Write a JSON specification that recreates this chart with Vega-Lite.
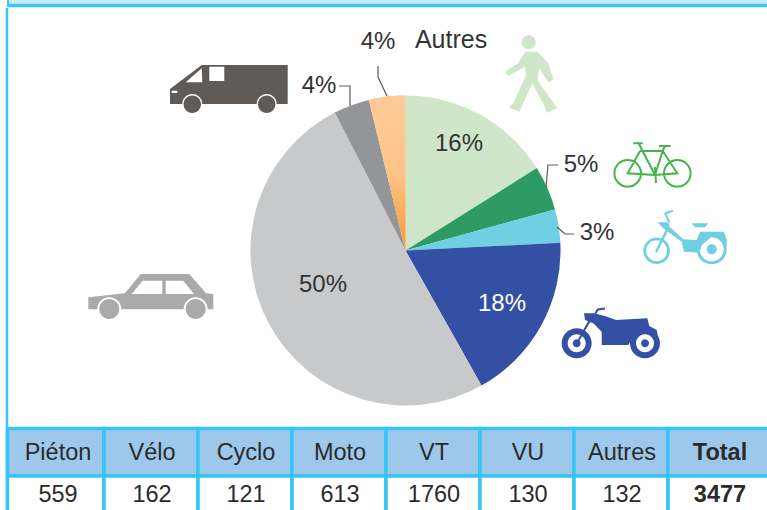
{
"$schema":"https://vega.github.io/schema/vega-lite/v6.json",
"width":767,"height":510,"padding":0,"autosize":"none","background":"white",
"config":{"view":{"stroke":null}},
"datasets":{
"slices":[
{"name":"Piéton","value":559,"k":1,"pct":"16%"},
{"name":"Vélo","value":162,"k":2,"pct":"5%"},
{"name":"Cyclo","value":121,"k":3,"pct":"3%"},
{"name":"Moto","value":613,"k":4,"pct":"18%"},
{"name":"VT","value":1760,"k":5,"pct":"50%"},
{"name":"VU","value":130,"k":6,"pct":"4%"},
{"name":"Autres","value":132,"k":7,"pct":"4%"}
],
"leaders":[
{"leader":"VU","i":1},{"leader":"VU","i":2},{"leader":"VU","i":3},
{"leader":"Autres","i":4},{"leader":"Autres","i":5},{"leader":"Autres","i":6},
{"leader":"Vélo","i":7},{"leader":"Vélo","i":8},{"leader":"Vélo","i":9},
{"leader":"Cyclo","i":10},{"leader":"Cyclo","i":11},{"leader":"Cyclo","i":12}
],
"table":[
{"row":"head","k":0,"k1":1,"t":"Piéton"},{"row":"head","k":1,"k1":2,"t":"Vélo"},{"row":"head","k":2,"k1":3,"t":"Cyclo"},{"row":"head","k":3,"k1":4,"t":"Moto"},{"row":"head","k":4,"k1":5,"t":"VT"},{"row":"head","k":5,"k1":6,"t":"VU"},{"row":"head","k":6,"k1":7,"t":"Autres"},{"row":"head","k":7,"k1":8,"t":"Total"},
{"row":"val","k":0,"k1":1,"t":"559"},{"row":"val","k":1,"k1":2,"t":"162"},{"row":"val","k":2,"k1":3,"t":"121"},{"row":"val","k":3,"k1":4,"t":"613"},{"row":"val","k":4,"k1":5,"t":"1760"},{"row":"val","k":5,"k1":6,"t":"130"},{"row":"val","k":6,"k1":7,"t":"132"},{"row":"val","k":7,"k1":8,"t":"3477"}
]
},
"resolve":{"scale":{"x":"independent","y":"independent","color":"independent","shape":"independent","theta":"independent"}},
"layer":[
{"data":{"values":[{}]},"mark":{"type":"rect","fill":"#CDEBF6"},"encoding":{"x":{"value":9},"x2":{"value":767},"y":{"value":0},"y2":{"value":4}}},
{"data":{"values":[{}]},"mark":{"type":"rule","stroke":"#38C5F5","strokeWidth":3.5},"encoding":{"x":{"value":8},"x2":{"value":767},"y":{"value":5.5}}},
{"data":{"values":[{}]},"mark":{"type":"rule","stroke":"#38C5F5","strokeWidth":2},"encoding":{"x":{"value":8},"y":{"value":0},"y2":{"value":7}}},
{"data":{"values":[{}]},"mark":{"type":"rule","stroke":"#38C5F5","strokeWidth":2.5},"encoding":{"x":{"value":7},"y":{"value":8},"y2":{"value":510}}},
{"data":{"name":"slices"},
"mark":{"type":"arc","outerRadius":155,"stroke":null},
"encoding":{
"x":{"value":405.5},"y":{"value":250.5},
"theta":{"field":"value","type":"quantitative","stack":true},
"order":{"field":"k"},
"color":{"field":"name","type":"nominal","legend":null,"scale":{"domain":["Piéton","Vélo","Cyclo","Moto","VT","VU","Autres"],"range":["#CFE6C8","#2E9B64","#6FCFE3","#3450A5","#C8C9CB","#939598","#FDC48A"]}}
}},
{"data":{"name":"slices"},
"transform":[{"stack":"value","groupby":[],"sort":[{"field":"k"}],"as":["a","b"]},{"filter":"datum.name==='Autres'"}],
"mark":{"type":"arc","outerRadius":155,"stroke":null,"fill":{"gradient":"linear","x1":0,"y1":0,"x2":0,"y2":1,"stops":[{"offset":0,"color":"#FDCB98"},{"offset":0.5,"color":"#FDC48A"},{"offset":1,"color":"#F59A30"}]}},
"encoding":{
"x":{"value":405.5},"y":{"value":250.5},
"theta":{"field":"a","type":"quantitative","stack":null,"scale":{"domain":[0,3477]}},
"theta2":{"field":"b"}
}},
{"data":{"name":"leaders"},
"mark":{"type":"line","stroke":"#5A5A5A","strokeWidth":1.2,"interpolate":"linear"},
"encoding":{
"x":{"field":"i","type":"quantitative","axis":null,"scale":{"zero":false,"nice":false,"domain":[1,2,3,4,5,6,7,8,9,10,11,12],"range":[350,350,339,378,378,387,546,548,558,557,565,574]}},
"y":{"field":"i","type":"quantitative","axis":null,"scale":{"zero":false,"nice":false,"domain":[1,2,3,4,5,6,7,8,9,10,11,12],"range":[106,86,86,66,77,96,187,165,165,227,234,234]}},
"detail":{"field":"leader"},
"order":{"field":"i"}
}},
{"data":{"name":"slices"},
"mark":{"type":"text","font":"Liberation Sans","fontSize":24,"align":"center","baseline":"middle","dy":1},
"encoding":{
"x":{"field":"k","type":"quantitative","axis":null,"scale":{"zero":false,"nice":false,"domain":[1,2,3,4,5,6,7],"range":[459,581,597,502,323,319,378]}},
"y":{"field":"k","type":"quantitative","axis":null,"scale":{"zero":false,"nice":false,"domain":[1,2,3,4,5,6,7],"range":[143,164,232,303,284,85,41]}},
"text":{"field":"pct"},
"color":{"condition":{"test":"datum.name==='Moto'","value":"#FFFFFF"},"value":"#333333"}
}},
{"data":{"name":"slices"},
"transform":[{"filter":"datum.name==='Autres'"}],
"mark":{"type":"text","font":"Liberation Sans","fontSize":25,"align":"center","baseline":"middle","color":"#333333","dx":73,"dy":-1},
"encoding":{
"x":{"field":"k","type":"quantitative","axis":null,"scale":{"zero":false,"nice":false,"domain":[1,2,3,4,5,6,7],"range":[459,581,597,502,323,319,378]}},
"y":{"field":"k","type":"quantitative","axis":null,"scale":{"zero":false,"nice":false,"domain":[1,2,3,4,5,6,7],"range":[143,164,232,303,284,85,41]}},
"text":{"field":"name"}
}},
{"data":{"name":"slices"},
"transform":[{"filter":"datum.name!=='Autres' && datum.name!=='Vélo'"}],
"mark":{"type":"point","filled":true,"opacity":1,"size":4,"strokeWidth":0},
"encoding":{
"x":{"field":"k","type":"quantitative","axis":null,"scale":{"zero":false,"nice":false,"domain":[1,2,3,4,5,6],"range":[530,652,685,611,151,229]}},
"y":{"field":"k","type":"quantitative","axis":null,"scale":{"zero":false,"nice":false,"domain":[1,2,3,4,5,6],"range":[73,163,238,333,292,88]}},
"color":{"field":"name","type":"nominal","legend":null,"scale":{"domain":["Piéton","Cyclo","Moto","VT","VU"],"range":["#CFE6C8","#6FCFE3","#3450A5","#A9AAAC","#5F5B59"]}},
"shape":{"field":"name","type":"nominal","legend":null,"scale":{"domain":["Piéton","Cyclo","Moto","VT","VU"],"range":[
"M-8.3 -30.7A7 7 0 1 1 5.7 -30.7A7 7 0 1 1 -8.3 -30.7ZM-5 -21.3L7.3 -21.3L18.3 -9.7L23.3 6.3L18.3 9.3L9.3 -4.7L7.3 7L27.3 35.3L16.7 39.7L15 34.3L2.3 10.3L-10.7 38.7L-21.7 34.3L-16.7 30.3L-4 2L-5 -6.3L-21.7 2.7L-25 -1.3L-11.7 -9.7Z",
"M-21.7 -9.7L-15 -10.7L-1.7 1.3L11.7 2L15 -6.3L39 -6.3L41.7 2L41.7 9L36.7 2L26.7 -1.3L16.7 7L14.3 14.7L-1 13.7L-3.3 3.7L-16.7 -6.3ZM-29 11.5L-18 -11L-15.5 -10L-27 12.5ZM-27.3 -15.7L-16.7 -15.7L-15 -9.7L-21.7 -9.7ZM-21 -25L-19 -25L-14.5 -15.7L-17 -15.7ZM-20 -26.3L-11.7 -28L-11.7 -26.3L-19 -24ZM6.7 -14.7L23.3 -14.7L20 -10.7L10 -10.7ZM-41.6 12.7A13.3 13.3 0 1 1 -15 12.7A13.3 13.3 0 1 1 -41.6 12.7ZM-38.8 12.7A10.5 10.5 0 1 0 -17.8 12.7A10.5 10.5 0 1 0 -38.8 12.7ZM-29.8 12.7A1.5 1.5 0 1 1 -26.8 12.7A1.5 1.5 0 1 1 -29.8 12.7ZM11.7 11.3A15 15 0 1 1 41.7 11.3A15 15 0 1 1 11.7 11.3ZM14.7 11.3A12 12 0 1 0 38.7 11.3A12 12 0 1 0 14.7 11.3ZM21.7 11.3A5 5 0 1 1 31.7 11.3A5 5 0 1 1 21.7 11.3Z",
"M-27 -19.7L-17.7 -19.7L-6 -17L5 -13L36.3 -14.7L38.3 -7L45.7 -3L47.3 5.3L39 -1.3L29 -1.3L22.3 3.7L17.3 12L-9.3 12L-9.3 -1.3L-17.7 -9.7L-26 -13ZM-35 10L-22 -13.5L-20 -12.5L-33.5 11ZM-17 -19L-14 -24.5L-6 -25.5L-6 -23.5L-12.5 -22.5L-15 -19ZM-49.3 10.3A15 15 0 1 1 -19.3 10.3A15 15 0 1 1 -49.3 10.3ZM-43.3 10.3A9 9 0 1 0 -25.3 10.3A9 9 0 1 0 -43.3 10.3ZM-38.3 10.3A4 4 0 1 1 -30.3 10.3A4 4 0 1 1 -38.3 10.3ZM19 10.3A15 15 0 1 1 49 10.3A15 15 0 1 1 19 10.3ZM25 10.3A9 9 0 1 0 43 10.3A9 9 0 1 0 25 10.3ZM30 10.3A4 4 0 1 1 38 10.3A4 4 0 1 1 30 10.3Z",
"M-62.7 5.3L-26 1.3L-10.3 -18L38.3 -18L55 1.3L62.3 2L62.3 17.3L56.7 17.3A12 12 0 0 0 32.7 17.3L-29.7 17.3A12 12 0 0 0 -53.7 17.3L-62.7 17.3ZM-19.3 2L11.3 2L11.3 -11.3L-8.3 -11.3ZM14.7 2L43 2L32.3 -11.3L14.7 -11.3ZM-51.7 17A10 10 0 1 1 -31.7 17A10 10 0 1 1 -51.7 17ZM34.7 17A10 10 0 1 1 54.7 17A10 10 0 1 1 34.7 17Z",
"M-59 1L-27.3 -23L58.7 -23L58.7 16L47.7 16A10 10 0 0 0 27.7 16L-26.7 16A10 10 0 0 0 -46.7 16L-59 16ZM-43.3 -5.7L-26.7 -5.7L-27.3 -19.7ZM-19.7 -21.3L-19.7 -7L-4.7 -7L-4.7 -21.3ZM-57.3 2.7L-57.3 5L-51.7 5L-51.7 2.7ZM-45.4 16.3A8.7 8.7 0 1 1 -28 16.3A8.7 8.7 0 1 1 -45.4 16.3ZM29 16.3A8.7 8.7 0 1 1 46.4 16.3A8.7 8.7 0 1 1 29 16.3Z"
]}}
}},
{"data":{"name":"slices"},
"transform":[{"filter":"datum.name==='Vélo'"}],
"mark":{"type":"point","filled":false,"opacity":1,"size":4,"strokeWidth":2,"stroke":"#45B549","shape":"M-37.6 10.3A13.3 13.3 0 1 1 -11 10.3A13.3 13.3 0 1 1 -37.6 10.3ZM12 10.3A13.3 13.3 0 1 1 38.6 10.3A13.3 13.3 0 1 1 12 10.3ZM-18.7 -19.7L-9.3 -19.7M-13 -19L3 12M-12 -12L10.7 -12M3 12L10.7 -12L25.3 10.3L3 12L-24.3 10.3L-12 -12M7 -17L18.7 -17M13 -17L10.7 -12M3 4L4 20"},
"encoding":{
"x":{"field":"k","type":"quantitative","axis":null,"scale":{"zero":false,"nice":false,"domain":[1,2,3,4,5,6],"range":[530,652,685,611,151,229]}},
"y":{"field":"k","type":"quantitative","axis":null,"scale":{"zero":false,"nice":false,"domain":[1,2,3,4,5,6],"range":[73,163,238,333,292,88]}}
}},
{"data":{"name":"table"},
"mark":{"type":"rect","stroke":"#38C5F5","strokeWidth":3.5,"clip":true},
"encoding":{
"x":{"field":"k","type":"quantitative","axis":null,"scale":{"zero":false,"nice":false,"domain":[0,1,7,8],"range":[7.5,104,668,772]}},
"x2":{"field":"k1"},
"y":{"field":"row","type":"nominal","axis":null,"scale":{"type":"band","domain":["head","val"],"range":[428.5,523.5],"padding":0}},
"color":{"field":"row","type":"nominal","legend":null,"scale":{"domain":["head","val"],"range":["#9DC8EB","#FFFFFF"]}}
}},
{"data":{"name":"table"},
"transform":[{"filter":"datum.k<7"}],
"mark":{"type":"text","font":"Liberation Sans","fontSize":23.5,"color":"#2B2B2B","align":"center","baseline":"middle","dy":1},
"encoding":{
"x":{"field":"k","type":"quantitative","axis":null,"scale":{"zero":false,"nice":false,"domain":[0,1,2,3,4,5,6,7],"range":[58,152,246,340,434,528,622,720]}},
"y":{"field":"row","type":"nominal","axis":null,"scale":{"type":"point","domain":["head","val"],"range":[452,494],"padding":0}},
"text":{"field":"t"}
}},
{"data":{"name":"table"},
"transform":[{"filter":"datum.k===7"}],
"mark":{"type":"text","font":"Liberation Sans","fontSize":23.5,"fontWeight":"bold","color":"#2B2B2B","align":"center","baseline":"middle","dy":1},
"encoding":{
"x":{"field":"k","type":"quantitative","axis":null,"scale":{"zero":false,"nice":false,"domain":[0,1,2,3,4,5,6,7],"range":[58,152,246,340,434,528,622,720]}},
"y":{"field":"row","type":"nominal","axis":null,"scale":{"type":"point","domain":["head","val"],"range":[452,494],"padding":0}},
"text":{"field":"t"}
}}
]
}
